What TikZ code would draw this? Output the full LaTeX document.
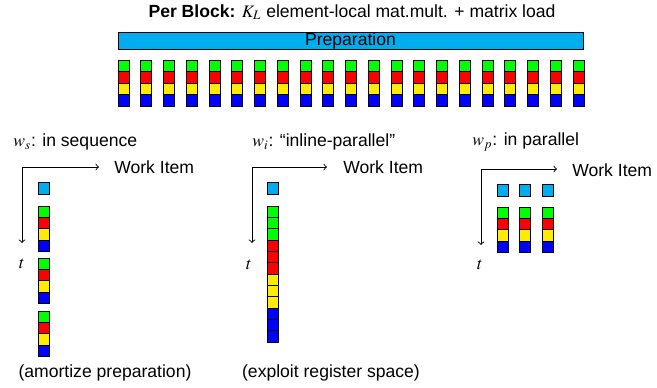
\documentclass[tikz,border=0pt]{standalone}
\usepackage{mathptmx}
\usepackage{fontspec}
\setmainfont{Liberation Sans}
\usetikzlibrary{positioning}

\definecolor{prepcyan}{RGB}{0,174,239}
\definecolor{cgreen}{RGB}{0,255,0}
\definecolor{cred}{RGB}{255,0,0}
\definecolor{cyellow}{RGB}{255,236,0}
\definecolor{cblue}{RGB}{0,0,255}

\tikzset{
  cell/.style={draw=black, line width=0.4pt, minimum width=0.22cm,
    minimum height=0.228cm, inner sep=0pt, outer sep=0pt},
  prep/.style={cell, fill=prepcyan},
  axis/.style={line width=0.5pt, <->},
  lbl/.style={anchor=west, inner sep=0pt},
}

\begin{document}
\begin{tikzpicture}[x=0.02cm, y=-0.02cm]
    \useasboundingbox (0,0) rectangle (657,387);
    % header
    \node (title) at (352,12) {\textbf{Per Block:} $K_L$ element-local mat.mult. + matrix load};
    \node[prep, minimum width=9.3cm, minimum height=0.34cm] (prepbar) at (350.5,40.5) {Preparation};
    \foreach \i in {0,...,20}
        \foreach \c [count=\k from 0] in {cgreen,cred,cyellow,cblue}
            \node[cell, fill=\c] (top-\i-\k) at ({123.5+22.75*\i},{65.75+11.5*\k}) {};

    % w_s: in sequence
    \node[lbl] (ws) at (13,142) {$w_s$: in sequence};
    \coordinate (ws-c) at (22,167);
    \coordinate (ws-x) at (99,167);
    \coordinate (ws-t) at (22,243);
    \draw[axis] (ws-t) |- (ws-x);
    \node[lbl] (ws-wi) at (114,167) {Work Item};
    \node (ws-tl) at (22,264) {$t$};
    \node[prep] (ws-p) at (44,188.5) {};
    \foreach \g/\y in {0/206,1/258,2/311}
        \foreach \c [count=\k from 0] in {cgreen,cred,cyellow,cblue}
            \node[cell, fill=\c] (ws-\g-\k) at (44,{\y+5.65+11.3*\k}) {};
    \node (ws-note) at (105,373) {(amortize preparation)};

    % w_i: inline-parallel
    \node[lbl] (wi) at (252,142) {$w_i$: “inline-parallel”};
    \coordinate (wi-x) at (327,167);
    \coordinate (wi-t) at (252,243);
    \draw[axis] (wi-t) |- (wi-x);
    \node[lbl] (wi-wi) at (343,167) {Work Item};
    \node (wi-tl) at (249,265) {$t$};
    \node[prep] (wi-p) at (273,188.5) {};
    \foreach \c [count=\k from 0] in {cgreen,cgreen,cgreen,cred,cred,cred,cyellow,cyellow,cyellow,cblue,cblue,cblue}
        \node[cell, fill=\c] (wi-\k) at (273,{211.65+11.33*\k}) {};
    \node (wi-note) at (331,373) {(exploit register space)};

    % w_p: in parallel
    \node[lbl] (wp) at (472,142) {$w_p$: in parallel};
    \coordinate (wp-x) at (557,169);
    \coordinate (wp-t) at (481,245);
    \draw[axis] (wp-t) |- (wp-x);
    \node[lbl] (wp-wi) at (572,170) {Work Item};
    \node (wp-tl) at (480,265) {$t$};
    \foreach \j in {0,1,2} {
        \node[prep] (wp-p-\j) at ({502.5+22.5*\j},190.5) {};
        \foreach \c [count=\k from 0] in {cgreen,cred,cyellow,cblue}
            \node[cell, fill=\c] (wp-\j-\k) at ({502.5+22.5*\j},{212.65+11.3*\k}) {};
    }
\end{tikzpicture}
\end{document}
